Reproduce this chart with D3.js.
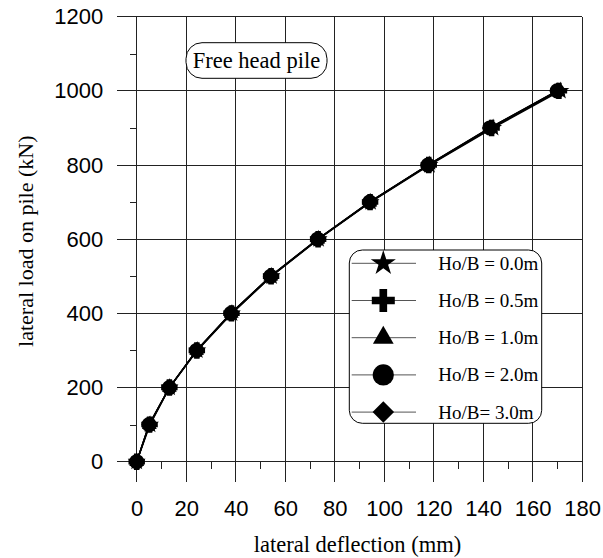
<!DOCTYPE html>
<html><head><meta charset="utf-8">
<script src="https://cdn.jsdelivr.net/npm/d3@7"></script>
<style>body{margin:0;background:#fff}svg{display:block}</style>
</head><body>
<svg id="c" width="603" height="558"></svg>
<script>
const loads = [0,100,200,300,400,500,600,700,800,900,1000];
const defl00 = [0,5.4,13.3,24.5,38.5,54.5,73.5,94.5,118.3,144,171.2];
const defl05 = [0,5.2,13.2,24.3,38.3,54.3,73.3,94.3,118,143.4,170.6];
const defl10 = [0,5.1,13.2,24.2,38.2,54.2,73.2,94.2,117.8,143,170.2];
const defl20 = [0,5.0,13.2,24.2,38.1,54.1,73.1,94.1,117.7,142.7,169.9];
const defl30 = [0,5.0,13.2,24.2,38.0,54.0,73.0,94.0,117.6,142.6,169.8];
const seriesNames = ["Ho/B = 0.0m","Ho/B = 0.5m","Ho/B = 1.0m","Ho/B = 2.0m","Ho/B= 3.0m"];
const xTicks = [0,20,40,60,80,100,120,140,160,180];
const yTicks = [0,200,400,600,800,1000,1200];
const xMinor = [10,30,50,70,90,110,130,150,170];
const yMinor = [100,300,500,700,900,1100];
const annotation = "Free head pile";

const series = [
  {name:seriesNames[0], x:defl00, sym:"star"},
  {name:seriesNames[1], x:defl05, sym:"plus"},
  {name:seriesNames[2], x:defl10, sym:"tri"},
  {name:seriesNames[3], x:defl20, sym:"circle"},
  {name:seriesNames[4], x:defl30, sym:"diamond"}
];

const L=136.7, R=582.2, T=16.7, B=461.7;
const x = d3.scaleLinear().domain([0,180]).range([L,R]);
const y = d3.scaleLinear().domain([0,1200]).range([B,T]);
const svg = d3.select("#c");

function symPath(kind, scale){
  const s = scale;
  switch(kind){
    case "star": return {d:d3.symbol(d3.symbolStar, 100*s*s)(), rot:0};
    case "plus": return {d:d3.symbol(d3.symbolCross, 150*s*s)(), rot:0};
    case "tri": return {d:d3.symbol(d3.symbolTriangle, 95*s*s)(), rot:0};
    case "circle": return {d:d3.symbol(d3.symbolCircle, 180*s*s)(), rot:0};
    case "diamond": return {d:d3.symbol(d3.symbolSquare, 118*s*s)(), rot:45};
  }
}

// grid (extending outward as major ticks)
const grid = svg.append("g").attr("stroke","#222").attr("stroke-width",1).attr("shape-rendering","crispEdges");
grid.selectAll(".gx").data(xTicks).join("line")
  .attr("x1",d=>x(d)).attr("x2",d=>x(d)).attr("y1",T).attr("y2",B+20);
grid.selectAll(".gy").data(yTicks).join("line")
  .attr("y1",d=>y(d)).attr("y2",d=>y(d)).attr("x1",L-20).attr("x2",R);

// axes (labels + minor ticks)
const font = "'Liberation Sans', Arial, sans-serif";
const ax = svg.append("g").attr("transform",`translate(0,${B})`)
  .call(d3.axisBottom(x).tickValues(xTicks).tickSize(20).tickSizeOuter(0).tickPadding(19).tickFormat(d3.format("d")));
ax.select(".domain").remove();
ax.selectAll(".tick line").remove();
ax.selectAll("text").attr("font-family",font).attr("font-size",22).attr("fill","#000");
const ay = svg.append("g").attr("transform",`translate(${L},0)`)
  .call(d3.axisLeft(y).tickValues(yTicks).tickSize(20).tickSizeOuter(0).tickPadding(13.5).tickFormat(d3.format("d")));
ay.select(".domain").remove();
ay.selectAll(".tick line").remove();
ay.selectAll("text").attr("font-family",font).attr("font-size",22).attr("fill","#000");

const axm = svg.append("g").attr("transform",`translate(0,${B})`)
  .call(d3.axisBottom(x).tickValues(xMinor).tickSize(7).tickSizeOuter(0).tickFormat(""));
axm.select(".domain").remove();
axm.selectAll("line").attr("stroke","#222").attr("shape-rendering","crispEdges");
const aym = svg.append("g").attr("transform",`translate(${L},0)`)
  .call(d3.axisLeft(y).tickValues(yMinor).tickSize(7).tickSizeOuter(0).tickFormat(""));
aym.select(".domain").remove();
aym.selectAll("line").attr("stroke","#222").attr("shape-rendering","crispEdges");

// axis titles
const serif = "'Liberation Serif', 'Times New Roman', serif";
svg.append("text").attr("x",(L+R)/2-2).attr("y",552).attr("text-anchor","middle")
  .attr("font-family",serif).attr("font-size",22.5).text("lateral deflection (mm)");
svg.append("text").attr("transform",`translate(33,${(T+B)/2+2}) rotate(-90)`).attr("text-anchor","middle")
  .attr("font-family",serif).attr("font-size",22).text("lateral load on pile (kN)");

// annotation box
const ag = svg.append("g");
ag.append("rect").attr("x",186).attr("y",42.7).attr("width",141).attr("height",35.6).attr("rx",16).attr("ry",16)
  .attr("fill","#fff").attr("stroke","#000").attr("stroke-width",1);
ag.append("text").attr("x",256.5).attr("y",68).attr("text-anchor","middle")
  .attr("font-family",serif).attr("font-size",22.5).text(annotation);

// series lines and markers
const line = d3.line().x(d=>x(d[0])).y(d=>y(d[1]));
series.forEach(s=>{
  svg.append("path").datum(s.x.map((v,i)=>[v,loads[i]])).attr("d",line)
    .attr("fill","none").attr("stroke","#000").attr("stroke-width",1.4);
});
series.forEach(s=>{
  const p = symPath(s.sym,1);
  svg.append("g").selectAll("path").data(s.x.map((v,i)=>[v,loads[i]])).join("path")
    .attr("d",p.d).attr("fill","#000")
    .attr("transform",d=>`translate(${x(d[0])},${y(d[1])}) rotate(${p.rot})`);
});

// legend
const lg = svg.append("g");
lg.append("rect").attr("x",349.3).attr("y",250).attr("width",192.4).attr("height",173.3)
  .attr("rx",13).attr("ry",13).attr("fill","#fff").attr("stroke","#000").attr("stroke-width",1);
series.forEach((s,i)=>{
  const cy = 263.3 + i*37.2;
  lg.append("line").attr("x1",351.7).attr("x2",416).attr("y1",cy).attr("y2",cy)
    .attr("stroke","#555").attr("stroke-width",1);
  const p = symPath(s.sym,1.4);
  lg.append("path").attr("d",p.d).attr("fill","#000")
    .attr("transform",`translate(383.3,${cy}) rotate(${p.rot})`);
  lg.append("text").attr("x",438.3).attr("y",cy+6.5).attr("font-family",serif).attr("font-size",19)
    .text(s.name);
});
</script>
</body></html>
